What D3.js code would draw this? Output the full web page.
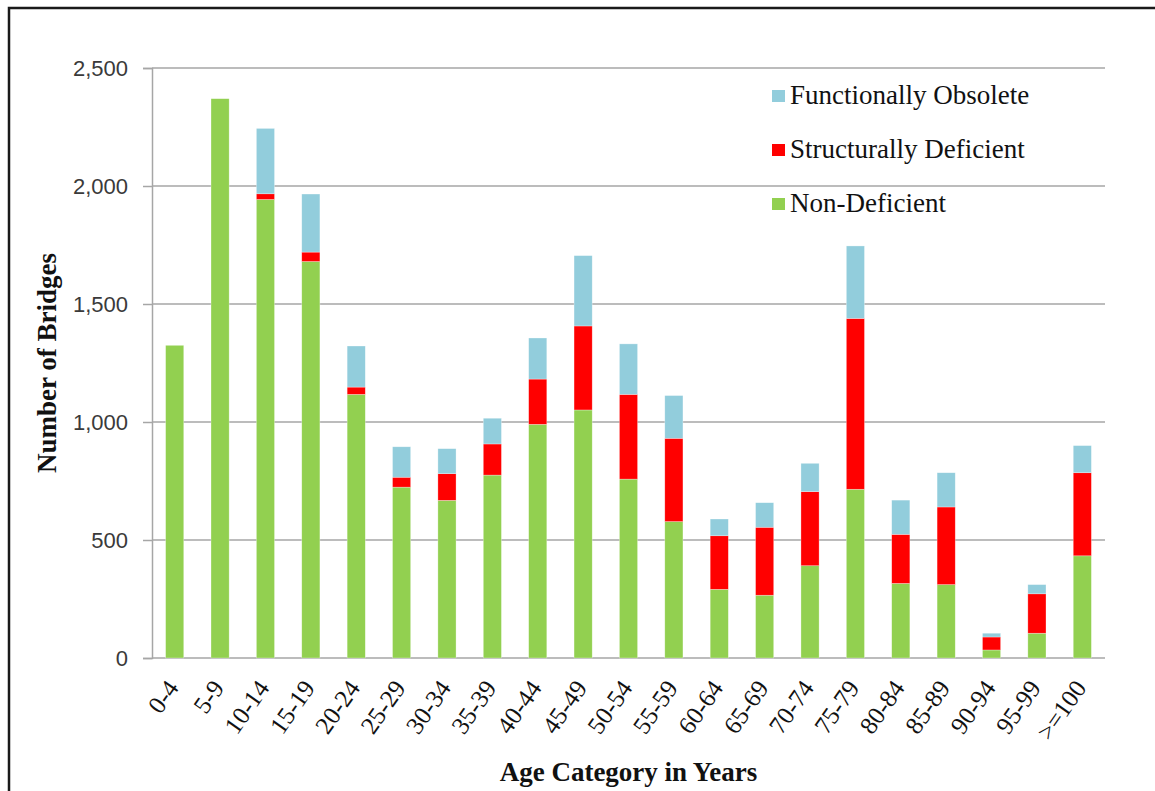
<!DOCTYPE html>
<html>
<head>
<meta charset="utf-8">
<script src="https://cdn.jsdelivr.net/npm/d3@7"></script>
<style>
  body{margin:0;background:#fff}
  svg{display:block}
</style>
</head>
<body>
<svg id="chart" width="1155" height="791"></svg>
<script>
// values
const categories=['0-4','5-9','10-14','15-19','20-24','25-29','30-34','35-39','40-44','45-49','50-54','55-59','60-64','65-69','70-74','75-79','80-84','85-89','90-94','95-99','>=100']
const nonDeficient=[1325,2370,1943,1680,1117,724,668,775,990,1051,758,578,291,266,391,715,316,311,34,105,433]
const structurallyDeficient=[0,0,24,40,31,42,113,132,192,356,359,353,227,288,314,724,208,329,55,167,352]
const functionallyObsolete=[0,0,277,246,174,129,106,109,174,298,214,181,71,104,120,307,145,145,16,39,115]
const yTicks=[0,500,1000,1500,2000,2500]

const seriesNames=['Non-Deficient','Structurally Deficient','Functionally Obsolete']
const colors={'Non-Deficient':'#92d050','Structurally Deficient':'#ff0000','Functionally Obsolete':'#92cddc'}

const rows=categories.map((c,i)=>({
  cat:c,
  'Non-Deficient':nonDeficient[i],
  'Structurally Deficient':structurallyDeficient[i],
  'Functionally Obsolete':functionallyObsolete[i]
}))

const svg=d3.select('#chart')
const plotLeft=152, plotRight=1105, plotTop=68, plotBottom=658

// outer frame (left + top edges visible)
svg.append('path')
  .attr('d','M9,791 V8 H1155')
  .attr('fill','none')
  .attr('stroke','#1a1a1a')
  .attr('stroke-width',2.5)

const x=d3.scaleBand().domain(categories).range([plotLeft,plotRight]).paddingInner(0.6).paddingOuter(0.3)
const y=d3.scaleLinear().domain([0,2500]).range([plotBottom,plotTop])

// gridlines + y ticks
const yAxis=svg.append('g').attr('transform','translate('+plotLeft+',0)')
  .call(d3.axisLeft(y).tickValues(yTicks).tickSize(9).tickPadding(15).tickFormat(d3.format(',')))
yAxis.select('.domain').attr('stroke','#a6a6a6').attr('stroke-width',1.5)
yAxis.selectAll('.tick line').attr('stroke','#a6a6a6').attr('stroke-width',1.5)
yAxis.selectAll('.tick text')
  .attr('font-family','"Liberation Sans", Arial, sans-serif')
  .attr('font-size',22)
  .attr('fill','#3a3a3a')

svg.append('g').selectAll('line')
  .data(yTicks)
  .enter()
  .append('line')
  .attr('x1',plotLeft).attr('x2',plotRight)
  .attr('y1',d=>y(d)).attr('y2',d=>y(d))
  .attr('stroke','#a6a6a6')
  .attr('stroke-width',1.5)

// stacked bars
const stack=d3.stack().keys(seriesNames)
svg.append('g').selectAll('g')
  .data(stack(rows))
  .enter()
  .append('g')
  .attr('fill',d=>colors[d.key])
  .selectAll('rect')
  .data(d=>d.filter(p=>p[1]-p[0]>0))
  .enter()
  .append('rect')
  .attr('x',d=>x(d.data.cat))
  .attr('width',x.bandwidth())
  .attr('y',d=>y(d[1]))
  .attr('height',d=>y(d[0])-y(d[1]))
  .attr('stroke','#ffffff')
  .attr('stroke-opacity',0.5)
  .attr('stroke-width',0.6)

// x labels, rotated
svg.append('g').selectAll('text')
  .data(categories)
  .enter()
  .append('text')
  .attr('transform',d=>'translate('+(x(d)+x.bandwidth()/2+5)+',688) rotate(-55)')
  .attr('text-anchor','end')
  .attr('font-family','"Liberation Serif", "Times New Roman", serif')
  .attr('font-size',25)
  .attr('fill','#111')
  .text(d=>d)

// axis titles
svg.append('text')
  .attr('x',(plotLeft+plotRight)/2)
  .attr('y',781)
  .attr('text-anchor','middle')
  .attr('font-family','"Liberation Serif", "Times New Roman", serif')
  .attr('font-weight','bold')
  .attr('font-size',27)
  .attr('fill','#111')
  .text('Age Category in Years')

svg.append('text')
  .attr('transform','translate(56,363) rotate(-90)')
  .attr('text-anchor','middle')
  .attr('font-family','"Liberation Serif", "Times New Roman", serif')
  .attr('font-weight','bold')
  .attr('font-size',27)
  .attr('fill','#111')
  .text('Number of Bridges')

// legend
const legend=svg.append('g').attr('transform','translate(772,90)')
const legendOrder=['Functionally Obsolete','Structurally Deficient','Non-Deficient']
const item=legend.selectAll('g')
  .data(legendOrder)
  .enter()
  .append('g')
  .attr('transform',(d,i)=>'translate(0,'+(i*54)+')')
item.append('rect')
  .attr('width',13).attr('height',12)
  .attr('fill',d=>colors[d])
item.append('text')
  .attr('x',18).attr('y',14)
  .attr('font-family','"Liberation Serif", "Times New Roman", serif')
  .attr('font-size',27)
  .attr('fill','#111')
  .text(d=>d)
</script>
</body>
</html>
